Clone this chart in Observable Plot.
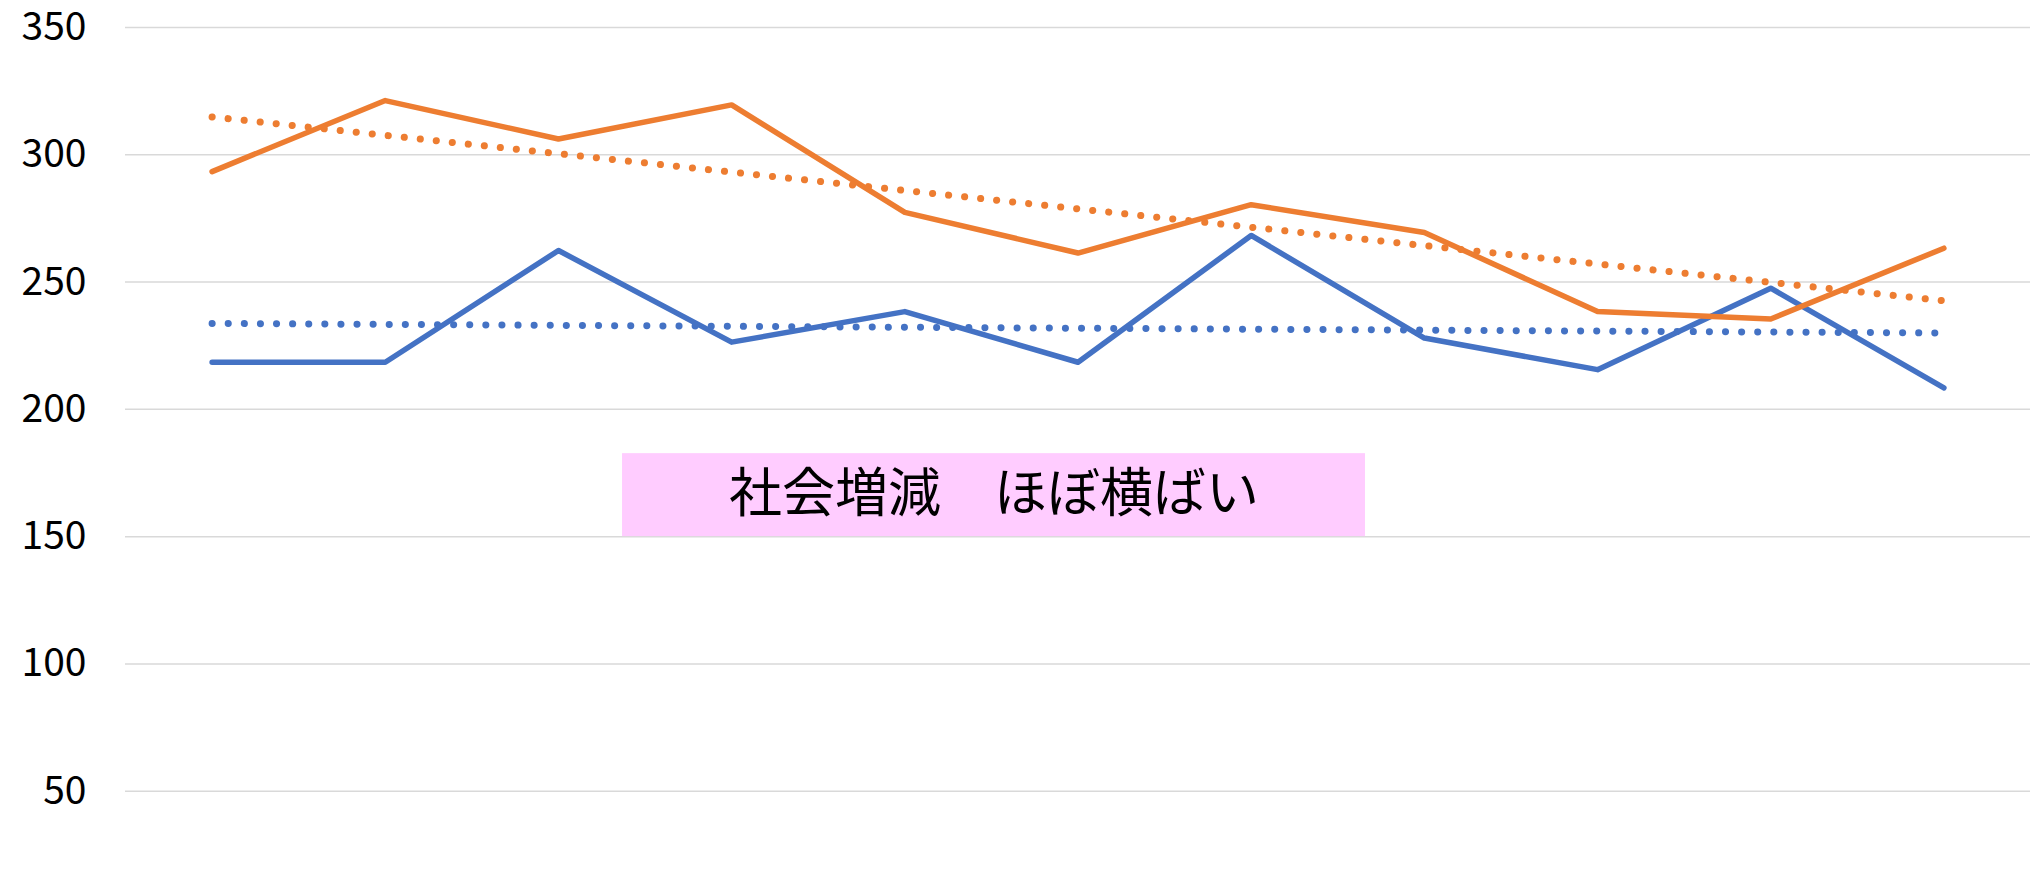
<!DOCTYPE html>
<html>
<head>
<meta charset="utf-8">
<script src="https://cdn.jsdelivr.net/npm/d3@7"></script>
<script src="https://cdn.jsdelivr.net/npm/@observablehq/plot@0.6"></script>
<style>
  html, body { margin: 0; padding: 0; background: #ffffff; }
  #chart { width: 2036px; height: 883px; overflow: hidden; }
</style>
</head>
<body>
<div id="chart"></div>
<script>
// Category index (11 periods, no labels shown)
const periods = [0, 1, 2, 3, 4, 5, 6, 7, 8, 9, 10];
// Series values
const blueValues = [218.5, 218.5, 262.4, 226.4, 238.4, 218.5, 268.3, 228.0, 215.6, 247.6, 208.4];
const orangeValues = [293.4, 321.3, 306.2, 319.6, 277.4, 261.4, 280.4, 269.5, 238.4, 235.5, 263.3];
// Y tick labels
const yTicks = [50, 100, 150, 200, 250, 300, 350];
// Annotation text
const noteText = ["社会増減　ほぼ横ばい"];

const blueData = periods.map((p, i) => ({x: p, y: blueValues[i]}));
const orangeData = periods.map((p, i) => ({x: p, y: orangeValues[i]}));

const FONT = "'Noto Sans CJK JP', 'Noto Sans', sans-serif";
const BLUE = "#4472C4";
const ORANGE = "#ED7D31";

const chart = Plot.plot({
  width: 2036,
  height: 883,
  marginLeft: 125,
  marginRight: 6,
  marginTop: 27,
  marginBottom: 0,
  style: {fontFamily: FONT, fontSize: "39px", color: "#000", background: "#fff", overflow: "hidden"},
  x: {type: "linear", domain: [-0.5, 10.5], range: [125, 2030], axis: null},
  y: {domain: [0, 350], range: [918, 27], axis: null},
  marks: [
    Plot.gridY(yTicks, {stroke: "#D9D9D9", strokeOpacity: 1, strokeWidth: 1.5}),
    Plot.axisY(yTicks, {tickSize: 0, tickPadding: 39, fontSize: 39, fontFamily: FONT, fill: "#000", label: null, textAnchor: "end"}),
    Plot.rect(noteText, {x1: () => 2.37, x2: () => 6.66, y1: () => 150, y2: () => 182.6, fill: "#FFCCFF"}),
    Plot.text(noteText, {x: () => 4.515, y: () => 166.3, text: d => d, fontSize: 53, fontFamily: FONT, fill: "#000", textAnchor: "middle", lineAnchor: "middle"}),
    Plot.line(blueData, {x: "x", y: "y", stroke: BLUE, strokeWidth: 5.5, strokeLinejoin: "round", strokeLinecap: "round"}),
    Plot.line(orangeData, {x: "x", y: "y", stroke: ORANGE, strokeWidth: 5.5, strokeLinejoin: "round", strokeLinecap: "round"}),
    Plot.linearRegressionY(blueData, {x: "x", y: "y", ci: 0, stroke: BLUE, strokeWidth: 7, strokeDasharray: "0.1 16", strokeLinecap: "round"}),
    Plot.linearRegressionY(orangeData, {x: "x", y: "y", ci: 0, stroke: ORANGE, strokeWidth: 7, strokeDasharray: "0.1 16", strokeLinecap: "round"})
  ]
});
document.getElementById("chart").appendChild(chart);
</script>
</body>
</html>
